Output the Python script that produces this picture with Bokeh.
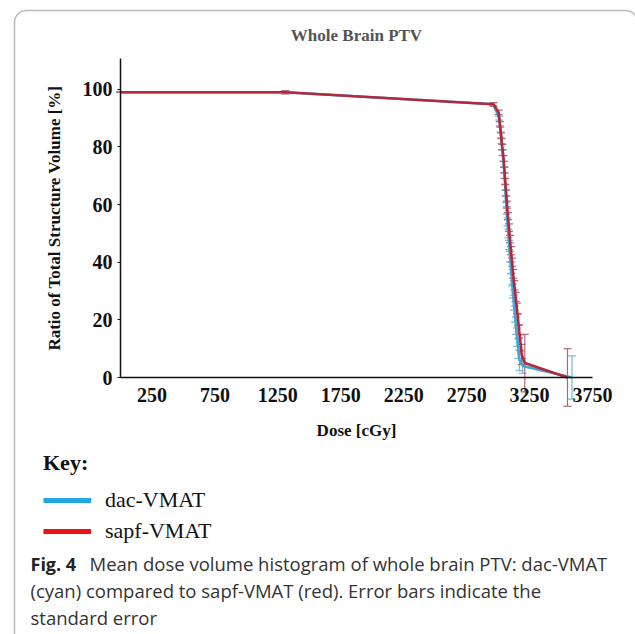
from bokeh.plotting import figure
from bokeh.models import (ColumnDataSource, Whisker, TeeHead, FixedTicker, Label,
                          Legend, LegendItem, BoxAnnotation)
from bokeh.embed import file_html
from bokeh.resources import INLINE

# ---------------- data ----------------
title_text = "Whole Brain PTV"
x_label = "Dose [cGy]"
y_label = "Ratio of Total Structure Volume [%]"
x_ticks = [250, 750, 1250, 1750, 2250, 2750, 3250, 3750]
y_ticks = [0, 20, 40, 60, 80, 100]
series_names = ["dac-VMAT", "sapf-VMAT"]

dose_dac = [0, 1310, 2963, 3009, 3018, 3027, 3036, 3045, 3051, 3057, 3062, 3068,
            3074, 3081, 3088, 3095, 3102, 3109, 3117, 3125, 3133, 3142, 3150,
            3160, 3170, 3195, 3587]
vol_dac = [99.0, 99.0, 94.8, 90, 86, 82, 78, 74, 70, 66, 62, 58, 54, 50, 46, 42,
           38, 34, 30, 26, 22, 18, 14, 10, 6, 4, 0]
err_dac = [0, 0.5, 0.6, 0.7, 0.8, 0.8, 0.9, 1.0, 1.0, 1.1, 1.2, 1.3, 1.4, 1.5,
           1.6, 1.8, 2.0, 2.2, 2.4, 2.6, 2.8, 3.0, 3.2, 3.4, 3.6, 2.5, 7.5]

dose_sapf = [0, 1310, 2963, 3004, 3014, 3024, 3033, 3043, 3050, 3057, 3064, 3071,
             3078, 3086, 3094, 3102, 3111, 3119, 3129, 3139, 3149, 3159, 3168,
             3178, 3187, 3212, 3551]
vol_sapf = [99.0, 99.0, 94.8, 92, 88, 84, 80, 76, 72, 68, 64, 60, 56, 52, 48, 44,
            40, 36, 32, 28, 24, 20, 16, 12, 8, 5, 0]
err_sapf = [0, 0.6, 0.6, 0.8, 0.8, 0.9, 0.9, 1.0, 1.0, 1.1, 1.1, 1.2, 1.2, 1.3,
            1.3, 1.4, 1.4, 1.5, 1.6, 1.6, 1.8, 2.0, 2.3, 2.8, 3.5, 10.0, 10.0]

caption_bold = "Fig. 4"
caption_lines = ["Mean dose volume histogram of whole brain PTV: dac-VMAT",
                 "(cyan) compared to sapf-VMAT (red). Error bars indicate the",
                 "standard error"]

# ---------------- styling / layout ----------------
SERIF = "Liberation Serif"
SANS = "Open Sans"
CYAN_LINE, CYAN_ERR, CYAN_KEY = "#45a6d6", "#6cbcdc", "#1ea7e1"
RED_LINE, RED_ERR, RED_KEY = "#b3283b", "#b26878", "#ee1111"

W, H = 635, 634
X_MAX, Y_MAX = 3750, 110.7
AX_L, AX_R, AX_T, AX_B = 120, 592, 58, 377   # pixel positions of the axes box
sx = (AX_R - AX_L) / X_MAX
sy = (AX_B - AX_T) / Y_MAX

p = figure(width=W, height=H, output_backend="svg", toolbar_location=None,
           x_range=(-AX_L / sx, X_MAX + (W - AX_R) / sx),
           y_range=(-(H - AX_B) / sy, Y_MAX + AX_T / sy),
           min_border=0)
p.outline_line_color = None
p.grid.visible = False
p.background_fill_color = "white"
p.border_fill_color = "white"

# axes (pinned to the data origin)
p.xaxis.fixed_location = 0
p.yaxis.fixed_location = 0
p.xaxis.bounds = (0, X_MAX)
p.yaxis.bounds = (0, Y_MAX)
p.xaxis.ticker = FixedTicker(ticks=x_ticks)
p.yaxis.ticker = FixedTicker(ticks=y_ticks)
for ax in (p.xaxis[0], p.yaxis[0]):
    ax.axis_line_color = "#111"
    ax.axis_line_width = 1.5
    ax.minor_tick_line_color = None
    ax.major_label_text_font = SERIF
    ax.major_label_text_font_style = "bold"
    ax.major_label_text_font_size = "20px"
    ax.major_label_text_color = "#111"
    ax.axis_label_text_font = SERIF
    ax.axis_label_text_font_style = "bold"
    ax.axis_label_text_font_size = "17px"
    ax.axis_label_text_color = "#111"
p.xaxis.major_tick_out = 0
p.xaxis.major_tick_in = 0
p.xaxis.major_label_standoff = 10
p.xaxis.axis_label = x_label
p.xaxis.axis_label_standoff = 16
p.yaxis.major_tick_out = 3
p.yaxis.major_tick_in = 0
p.yaxis.major_tick_line_color = "#111"
p.yaxis.major_label_standoff = 5
p.yaxis.axis_label = y_label
p.yaxis.axis_label_standoff = 16

# data series
src_dac = ColumnDataSource(dict(x=dose_dac, y=vol_dac,
                                lo=[v - e for v, e in zip(vol_dac, err_dac)],
                                hi=[v + e for v, e in zip(vol_dac, err_dac)]))
src_sapf = ColumnDataSource(dict(x=dose_sapf, y=vol_sapf,
                                 lo=[v - e for v, e in zip(vol_sapf, err_sapf)],
                                 hi=[v + e for v, e in zip(vol_sapf, err_sapf)]))

for src, ecol, lcol in ((src_dac, CYAN_ERR, CYAN_LINE), (src_sapf, RED_ERR, RED_LINE)):
    w = Whisker(source=src, base="x", lower="lo", upper="hi", dimension="height",
                line_color=ecol, line_width=1.2,
                upper_head=TeeHead(size=8, line_color=ecol, line_width=1.2),
                lower_head=TeeHead(size=8, line_color=ecol, line_width=1.2))
    p.add_layout(w)
    p.line("x", "y", source=src, line_color=lcol, line_width=2.6)

# legend ("Key:") with key swatches (renderers carry no visible points)
nan = float("nan")
k1 = p.line(x=[nan], y=[nan], line_color=CYAN_KEY, line_width=5)
k2 = p.line(x=[nan], y=[nan], line_color=RED_KEY, line_width=5)
legend = Legend(items=[LegendItem(label=series_names[0], renderers=[k1], index=0),
                       LegendItem(label=series_names[1], renderers=[k2], index=0)],
                location=(43, H - 544),
                title="Key:", title_text_font=SERIF, title_text_font_style="bold",
                title_text_font_size="22px", title_text_color="#111",
                title_standoff=11,
                label_text_font=SERIF, label_text_font_size="22px",
                label_text_color="#111",
                glyph_width=48, glyph_height=20, label_standoff=14, spacing=5,
                padding=0, margin=0, border_line_color=None,
                background_fill_alpha=0)
p.add_layout(legend)

# title
p.add_layout(Label(x=(AX_L + AX_R) / 2, y=H - 35, x_units="screen", y_units="screen",
                   text=title_text, text_font=SERIF, text_font_style="bold",
                   text_font_size="17px", text_color="#555",
                   text_align="center", text_baseline="middle"))

# caption
cap_y = [563, 590, 617]
p.add_layout(Label(x=30, y=H - cap_y[0], x_units="screen", y_units="screen",
                   text=caption_bold, text_font=SANS, text_font_style="bold",
                   text_font_size="18px", text_color="#222", text_baseline="middle"))
p.add_layout(Label(x=89, y=H - cap_y[0], x_units="screen", y_units="screen",
                   text=caption_lines[0], text_font=SANS,
                   text_font_size="18.5px", text_color="#333", text_baseline="middle"))
for i in (1, 2):
    p.add_layout(Label(x=30, y=H - cap_y[i], x_units="screen", y_units="screen",
                       text=caption_lines[i], text_font=SANS,
                       text_font_size="18.5px", text_color="#333",
                       text_baseline="middle"))

# rounded outer frame
p.add_layout(BoxAnnotation(left=14, right=W + 2, top=H - 10, bottom=-100,
                           left_units="screen", right_units="screen",
                           top_units="screen", bottom_units="screen",
                           fill_alpha=0, line_color="#222", line_width=1.6,
                           border_radius=12))

open("out.html", "w").write(file_html(p, INLINE))
